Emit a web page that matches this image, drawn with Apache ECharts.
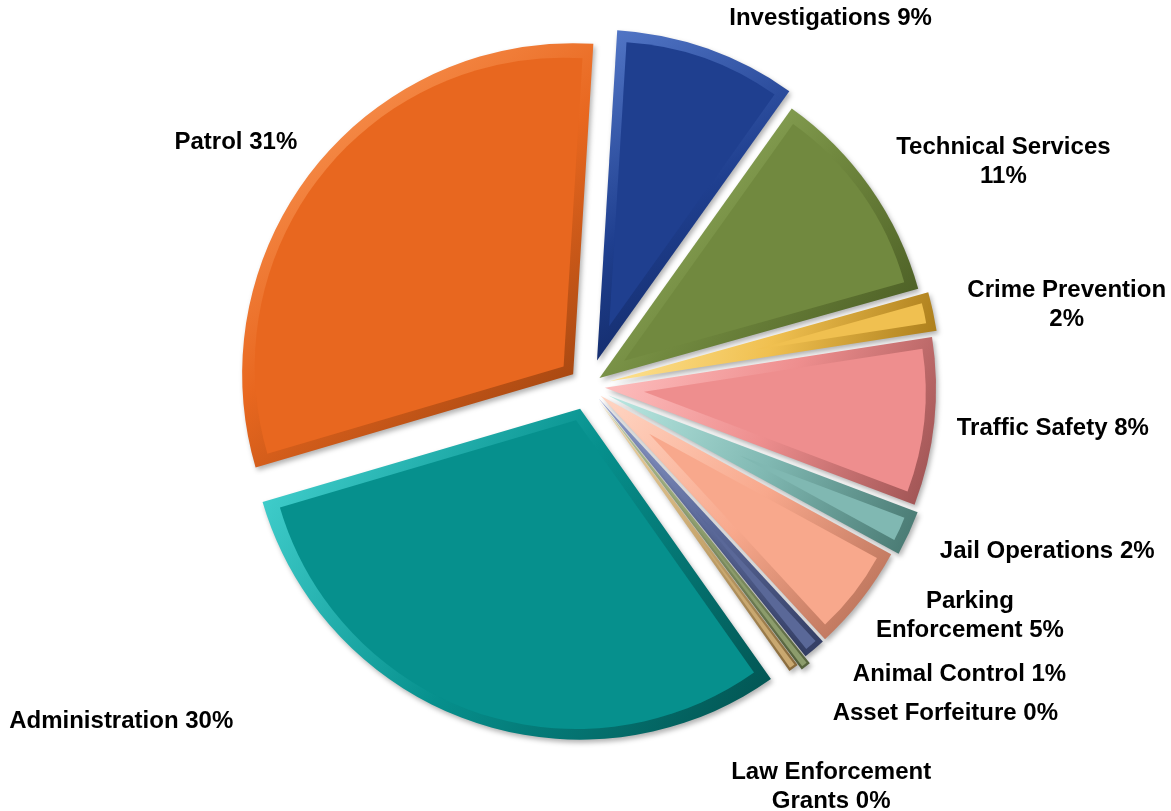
<!DOCTYPE html>
<html>
<head>
<meta charset="utf-8">
<title>Police Department Budget by Division</title>
<script src="https://cdn.jsdelivr.net/npm/echarts@6/dist/echarts.min.js"></script>
<style>
  html, body { margin: 0; padding: 0; background: #ffffff; }
  #chart { width: 1171px; height: 811px; }
</style>
</head>
<body>
<div id="chart"></div>
<script>
// Divisions, in clockwise order from the top of the pie
const categories = [
  'Investigations', 'Technical Services', 'Crime Prevention', 'Traffic Safety',
  'Jail Operations', 'Parking Enforcement', 'Animal Control', 'Asset Forfeiture',
  'Law Enforcement Grants', 'Administration', 'Patrol'
];
// Share of the budget (percent)
const shares = [8.9, 10.8, 1.9, 8.2, 2.2, 5.2, 1.1, 0.49, 0.49, 30.25, 30.55];

// Slice colours: face, highlight rim, shaded rim
const faceColors  = ['#1f3f8f', '#71893f', '#f0c050', '#ee8e8e', '#80b8b2', '#f8a88c', '#5a6898', '#8c9c6c', '#c9a870', '#06908d', '#e8671f'];
const lightColors = ['#5478c8', '#a4c070', '#ffe69a', '#ffc4c4', '#bae8e2', '#ffd6c4', '#93a1d0', '#c2d2a0', '#f0d8a8', '#4ad8d6', '#ffa465'];
const darkColors  = ['#0c1f52', '#42531e', '#a87a18', '#9a5050', '#46766f', '#b06a52', '#323c62', '#55623c', '#86683a', '#02504e', '#8e3c0c'];

// Per-slice explosion distance (px)
const explode = [27, 14, 22, 17, 22, 16, 16, 24, 18, 24, 19];
// Label leader geometry per slice: [radial length, horizontal length]
const labelLeader = [[32, 6], [45, -16], [30, 0], [65, -47], [44, -14], [27, -12], [33, 12], [60, -15], [147, -154], [0, 233], [41, -20]];
// Number of name words on the first label line (0 = single line)
const labelBreak = [0, 2, 2, 0, 0, 1, 0, 0, 2, 0, 0];

const FONT = '"Liberation Sans", Arial, Helvetica, sans-serif';
const CENTER = [588, 386];
const RADIUS = 331;     // outer radius of every slice
const RIM = 10;         // bevel width
const START = 86.5;

const total = shares.reduce((a, b) => a + b, 0);

function labelText(i) {
  const pct = Math.round(shares[i] / total * 100) + '%';
  const words = categories[i].split(' ');
  const k = labelBreak[i];
  const lines = k
    ? [words.slice(0, k).join(' '), words.slice(k).concat([pct]).join(' ')]
    : [words.concat([pct]).join(' ')];
  return lines.map(s => '{c|' + s + '}').join('\n');
}

function rimGradient(i) {
  return {
    type: 'linear', x: 0, y: 0, x2: 1, y2: 1,
    colorStops: [
      { offset: 0, color: lightColors[i] },
      { offset: 0.5, color: faceColors[i] },
      { offset: 1, color: darkColors[i] }
    ]
  };
}

// A pie layer that lays out the full data set but paints only slice i.
function layer(i, opts) {
  return {
    type: 'pie',
    name: categories[i],
    left: 0, top: 0, right: -300, bottom: -300,
    center: CENTER,
    radius: opts.radius,
    startAngle: START,
    clockwise: true,
    selectedMode: 'multiple',
    selectedOffset: opts.offset,
    avoidLabelOverlap: false,
    silent: true,
    animation: false,
    z: opts.z,
    label: { show: false },
    labelLine: { show: false },
    data: categories.map((n, j) => {
      if (j !== i) {
        return {
          name: n, value: shares[j],
          itemStyle: { color: 'rgba(0,0,0,0)', borderWidth: 0, shadowBlur: 0 },
          label: { show: false },
          labelLine: { show: false }
        };
      }
      const item = { name: n, value: shares[j], selected: true, itemStyle: opts.itemStyle };
      item.label = opts.label || { show: false };
      item.labelLine = opts.labelLine || { show: false };
      return item;
    })
  };
}

const series = [];
categories.forEach((name, i) => {
  // Bevel rim: the whole slice, shaded from highlight to shadow
  series.push(layer(i, {
    radius: RADIUS,
    offset: explode[i],
    z: 2,
    itemStyle: {
      color: rimGradient(i),
      borderWidth: 0,
      shadowBlur: 5,
      shadowOffsetX: 2,
      shadowOffsetY: 3,
      shadowColor: 'rgba(0,0,0,0.3)'
    },
    label: {
      show: true,
      position: 'outside',
      alignTo: 'none',
      distanceToLabelLine: 5,
      formatter: () => labelText(i),
      color: '#000',
      fontFamily: FONT,
      fontWeight: 'bold',
      fontSize: 24,
      lineHeight: 29,
      rich: {
        c: { align: 'center', color: '#000', fontFamily: FONT, fontWeight: 'bold', fontSize: 24, lineHeight: 29 }
      }
    },
    labelLine: { show: false, length: labelLeader[i][0], length2: labelLeader[i][1] }
  }));

  // Face: the same wedge pushed further out along its bisector so that its
  // straight edges sit one rim-width inside the slice edges.
  const half = Math.sin(shares[i] / total * Math.PI);
  const rim = Math.min(RIM, 0.45 * RADIUS * half);
  const inset = rim / half;
  const faceRadius = RADIUS - rim - inset;
  if (faceRadius > 10) {
    series.push(layer(i, {
      radius: faceRadius,
      offset: explode[i] + inset,
      z: 3,
      itemStyle: { color: faceColors[i], borderWidth: 0, shadowBlur: 0 }
    }));
  }
});

const chart = echarts.init(document.getElementById('chart'), null, { renderer: 'canvas' });
chart.setOption({
  backgroundColor: '#ffffff',
  animation: false,
  series: series
});
</script>
</body>
</html>
